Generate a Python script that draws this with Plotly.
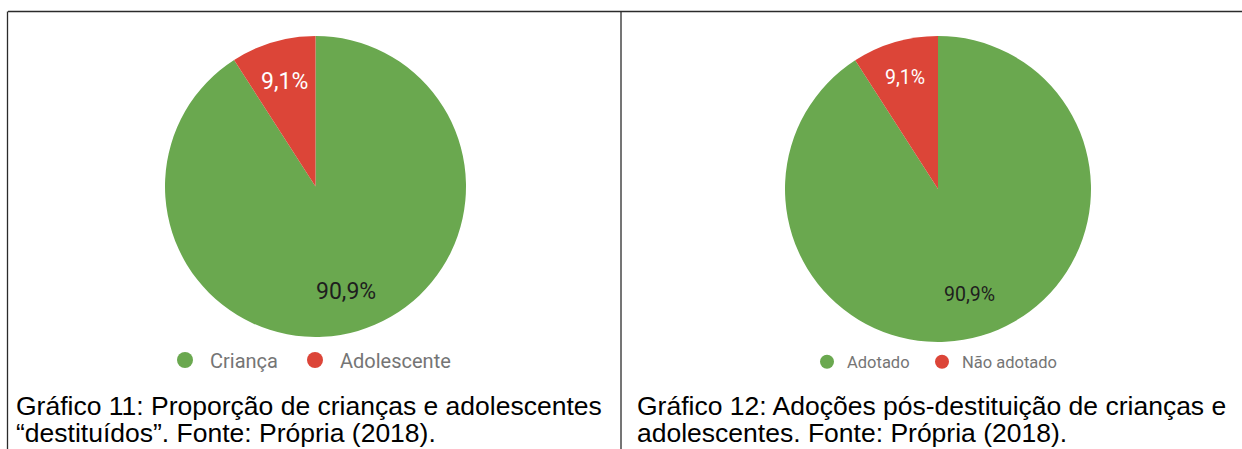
import math
import plotly.graph_objects as go

W, H = 1242, 449

# Gráfico 11 data
cat_11 = ["Criança", "Adolescente"]
val_11 = [90.9, 9.1]

# Gráfico 12 data
cat_12 = ["Adotado", "Não adotado"]
val_12 = [90.9, 9.1]

colors = ["#6aa84f", "#dc4538"]
label_colors = ["#1e1e1e", "#ffffff"]

caption_11 = ["Gráfico 11: Proporção de crianças e adolescentes",
              "“destituídos”. Fonte: Própria (2018)."]
caption_12 = ["Gráfico 12: Adoções pós-destituição de crianças e",
              "adolescentes. Fonte: Própria (2018)."]


def px_x(x):
    return x / W


def px_y(y):
    return 1 - y / H


def pct_text(v, total):
    return f"{100 * v / total:.1f}%".replace(".", ",")


# pixel boxes (left, top, right, bottom) of each pie, label radius fractions, label font size,
# legend entry left edges and vertical centre
charts = [
    dict(labels=cat_11, values=val_11, box=(165, 36, 466, 337), label_r=[0.73, 0.73], fsize=23,
         legend_x=[160, 290], legend_y=360, itemwidth=40, lsize=20, msize=16),
    dict(labels=cat_12, values=val_12, box=(785, 36, 1091, 342), label_r=[0.72, 0.76], fsize=19.5,
         legend_x=[807, 922], legend_y=362, itemwidth=30, lsize=16.5, msize=14),
]

fig = go.Figure()
annotations = []
legends = {}
n_leg = 0

for ch in charts:
    l, t, r, b = ch["box"]
    fig.add_trace(go.Pie(
        labels=ch["labels"], values=ch["values"],
        domain=dict(x=[px_x(l), px_x(r)], y=[px_y(b), px_y(t)]),
        sort=False, direction="clockwise", rotation=0,
        textinfo="none",
        marker=dict(colors=colors, line=dict(width=0)),
        showlegend=False, hoverinfo="skip",
    ))

    # percentage labels on each slice's mid-angle (clockwise from 12 o'clock)
    cx, cy, rad = (l + r) / 2, (t + b) / 2, (r - l) / 2
    total = sum(ch["values"])
    cum = 0.0
    for v, col, rf in zip(ch["values"], label_colors, ch["label_r"]):
        theta = 2 * math.pi * (cum + v / 2) / total
        cum += v
        lx = cx + rf * rad * math.sin(theta)
        ly = cy - rf * rad * math.cos(theta)
        annotations.append(dict(
            text=pct_text(v, total), xref="paper", yref="paper",
            x=px_x(lx), y=px_y(ly), xanchor="center", yanchor="middle", showarrow=False,
            font=dict(family="Roboto", size=ch["fsize"], color=col),
        ))

    # circular legend markers, one legend box per entry
    for name, col, lxp in zip(ch["labels"], colors, ch["legend_x"]):
        n_leg += 1
        key = "legend" if n_leg == 1 else f"legend{n_leg}"
        fig.add_trace(go.Scatter(x=[None], y=[None], mode="markers", name=name,
                                 marker=dict(color=col, size=ch["msize"]), legend=key))
        legends[key] = dict(
            orientation="h", x=px_x(lxp), y=px_y(ch["legend_y"]),
            xanchor="left", yanchor="middle", itemwidth=ch["itemwidth"],
            font=dict(family="Roboto", size=ch["lsize"], color="#757575"),
            bgcolor="rgba(0,0,0,0)",
        )

# frame lines
line_style = dict(color="#2b2b2b", width=1.3)
shapes = [
    dict(type="line", xref="paper", yref="paper", x0=px_x(8), x1=1, y0=px_y(11.5), y1=px_y(11.5), line=line_style),
    dict(type="line", xref="paper", yref="paper", x0=px_x(7.5), x1=px_x(7.5), y0=px_y(11.5), y1=0, line=line_style),
    dict(type="line", xref="paper", yref="paper", x0=px_x(621), x1=px_x(621), y0=px_y(11.5), y1=0, line=line_style),
]

for x0, lines in ((14, caption_11), (635, caption_12)):
    for i, txt in enumerate(lines):
        annotations.append(dict(
            text=txt, xref="paper", yref="paper",
            x=px_x(x0), y=px_y(406 + 27 * i),
            xanchor="left", yanchor="middle", showarrow=False,
            font=dict(family="Liberation Sans, Arial", size=26.5, color="#000000"),
        ))

fig.update_layout(
    width=W, height=H,
    margin=dict(l=0, r=0, t=0, b=0),
    paper_bgcolor="white", plot_bgcolor="white",
    xaxis=dict(visible=False), yaxis=dict(visible=False),
    shapes=shapes,
    annotations=annotations,
    **legends,
)

fig.write_html("out.html")
